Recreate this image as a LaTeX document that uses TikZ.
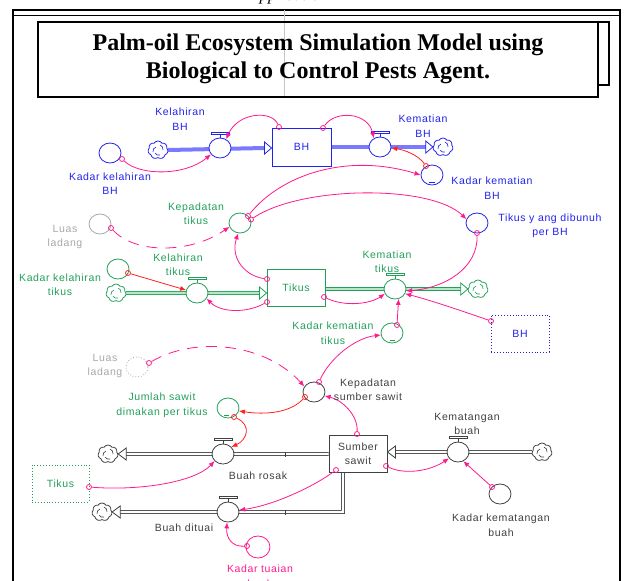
\documentclass[tikz,border=0pt]{standalone}
\usepackage{fontspec}
\setmainfont{Liberation Serif}
\newfontfamily\lbl[LetterSpace=6]{Liberation Sans}
\usetikzlibrary{shapes.geometric,shapes.symbols,arrows.meta,calc}
\pgfdeclarelayer{bg}
\pgfsetlayers{bg,main}
\definecolor{bhblue}{HTML}{2222EE}
\definecolor{bhpipe}{HTML}{7A7AFF}
\definecolor{tgreen}{HTML}{22A05A}
\definecolor{tfill}{HTML}{B8E6C8}
\definecolor{mag}{HTML}{FF1A8C}
\definecolor{cred}{HTML}{FF2222}
\definecolor{lgray}{HTML}{A8A8A8}
\definecolor{dgray}{HTML}{404040}
\tikzset{
  aux/.style={ellipse, draw, fill=white, line width=0.8pt, minimum width=22pt, minimum height=20pt, inner sep=0pt},
  stockbox/.style={rectangle, draw, fill=white, line width=0.9pt, inner sep=0pt, minimum width=58pt, minimum height=37pt, font={\fontsize{10.5}{14.5}\selectfont\lbl}, align=center},
  sc/.style={circle, draw=mag, line width=0.8pt, minimum size=5pt, inner sep=0pt},
  cn/.style={draw=mag, line width=0.8pt, -{Latex[length=6pt,width=5pt]}},
  cnr/.style={cn, draw=cred, fill=none},
  dsh/.style={dash pattern=on 11pt off 8pt},
  cloudn/.style={cloud, draw, fill=white, cloud puffs=7, cloud puff arc=115, cloud ignores aspect, minimum width=20pt, minimum height=18pt, inner sep=0pt, line width=0.8pt},
  lab/.style={font={\fontsize{10.5}{14.5}\selectfont\lbl}, align=center, inner sep=0pt},
  pipeg/.style={draw=tgreen, double=tfill, double distance=2.4pt, line width=0.7pt},
  pipek/.style={draw=dgray, double=white, double distance=2.2pt, line width=0.7pt},
  tri/.style={fill=white, line width=0.8pt}
}
\newcommand\valvecap[2]{%
  \draw[#2, line width=0.8pt] (#1.north) -- ++(0,-3);
  \draw[#2, line width=0.8pt, fill=white] ($(#1.north)+(-9,-3)$) rectangle ($(#1.north)+(9,-5.5)$);}
\newcommand\cloudmarks[2]{%
  \draw[#2, line width=0.6pt] ([shift={(-5,2)}]#1.center) to[bend left=40] ([shift={(-2,-3)}]#1.center);
  \draw[#2, line width=0.6pt] ([shift={(2,-5)}]#1.center) to[bend left=40] ([shift={(5,0)}]#1.center);
  \draw[#2, line width=0.6pt] ([shift={(2,5)}]#1.center) to[bend left=40] ([shift={(-3,3)}]#1.center);}
\begin{document}
\begin{tikzpicture}[x=1pt,y=-1pt]
\begin{pgfonlayer}{bg}
\fill[white] (0,0) rectangle (627,581);
\end{pgfonlayer}
\useasboundingbox (0,0) rectangle (627,581);

% cut-off heading at the very top
\begin{scope}
\clip (0,0) rectangle (627,9);
\node[font=\itshape\fontsize{17}{17}\selectfont, anchor=base west, inner sep=0pt] (apx) at (249,0.8) {Application};
\end{scope}

% outer frame
\draw[line width=2.2pt] (13,581) -- (13,10) -- (620,10) -- (620,581);
\draw[line width=0.7pt] (13,15.5) -- (620,15.5);
\draw[gray!45, line width=0.4pt] (284,10) -- (284,97);

% title
\draw[line width=2.4pt] (598,22) rectangle (609,85);
\node[draw, fill=white, line width=1.4pt, minimum width=560pt, minimum height=75pt, inner sep=0pt] (titlebox) at (318,59.5) {};
\draw[gray!45, line width=0.4pt] (284,23) -- (284,96);
\node[font=\bfseries\fontsize{24}{28}\selectfont, align=center, inner sep=0pt] (titletext) at (318,59) {Palm-oil Ecosystem Simulation Model using\\Biological to Control Pests Agent.};

% ---------------- BH section
\node[aux, draw=bhblue] (kkbh) at (110,153) {};
\node[cloudn, draw=bhblue] (cl1) at (158,150) {};
\node[aux, draw=bhblue] (v1) at (220,148) {};
\node[stockbox, draw=bhblue, minimum width=59pt, minimum height=38pt, text=bhblue] (bh) at (301.5,147) {BH};
\node[aux, draw=bhblue] (v2) at (380,147) {};
\node[cloudn, draw=bhblue] (cl2) at (443,147) {};
\node[aux, draw=bhblue] (kmbh) at (432,175) {};
\draw[bhblue, line width=0.6pt] (429,182) -- (435,182);
\cloudmarks{cl1}{bhblue}
\cloudmarks{cl2}{bhblue}
\begin{pgfonlayer}{bg}
\draw[line width=4pt, bhpipe] (cl1.east) -- ($(v1 -| bh.west)+(-7,0)$);
\draw[line width=4pt, bhpipe] (v2 -| bh.east) -- ($(v2 -| cl2.west)+(-7,0)$);
\end{pgfonlayer}
\draw[tri, draw=bhblue] (v1 -| bh.west) -- ++(-7,-6) -- ++(0,12) -- cycle;
\draw[tri, draw=bhblue] (v2 -| cl2.west) -- ++(-7,-6) -- ++(0,12) -- cycle;
\valvecap{v1}{bhblue}
\valvecap{v2}{bhblue}

% ---------------- Tikus section
\node[aux, draw=tgreen] (kt) at (240,223) {};
\node[aux, draw=lgray] (ll1) at (100,224) {};
\node[aux, draw=bhblue] (tdb) at (477,223) {};
\node[aux, draw=tgreen] (kkt) at (118,269) {};
\node[cloudn, draw=tgreen] (cl3) at (116,293) {};
\node[aux, draw=tgreen] (v3) at (197,293) {};
\node[stockbox, draw=tgreen, text=tgreen] (tk) at (296,287.5) {Tikus};
\node[aux, draw=tgreen] (v4) at (395,289) {};
\node[cloudn, draw=tgreen] (cl4) at (478,289) {};
\node[aux, draw=tgreen] (ktm) at (392,333) {};
\draw[tgreen, line width=0.6pt] (390,340) -- (395,340);
\node[stockbox, draw=bhblue, dotted, text=bhblue] (bhg) at (520,333.5) {BH};
\cloudmarks{cl3}{tgreen}
\cloudmarks{cl4}{tgreen}
\begin{pgfonlayer}{bg}
\draw[pipeg] (cl3.east) -- ($(v3 -| tk.west)+(-7,0)$);
\draw[pipeg] (v4 -| tk.east) -- ($(v4 -| cl4.west)+(-7,0)$);
\end{pgfonlayer}
\draw[tri, draw=tgreen] (v3 -| tk.west) -- ++(-7,-6) -- ++(0,12) -- cycle;
\draw[tri, draw=tgreen] (v4 -| cl4.west) -- ++(-7,-6) -- ++(0,12) -- cycle;
\valvecap{v3}{tgreen}
\valvecap{v4}{tgreen}

% ---------------- Sumber sawit section
\node[aux, draw=lgray, dotted] (ll2) at (137,367) {};
\node[aux, draw=dgray] (kss) at (314,392) {};
\node[aux, draw=tgreen] (js) at (228,408) {};
\draw[tgreen, line width=0.6pt] (224,415) -- (229,415);
\node[cloudn, draw=dgray] (cl5) at (108,454) {};
\node[aux, draw=dgray] (v5) at (223,454) {};
\node[stockbox, draw=dgray, text=dgray] (ss) at (358,453.5) {Sumber\\sawit};
\node[aux, draw=dgray] (v7) at (458,452) {};
\node[cloudn, draw=dgray] (cl6) at (542,452) {};
\node[aux, draw=dgray] (kkb) at (500,494) {};
\node[stockbox, draw=tgreen, dotted, text=tgreen, minimum width=57pt] (tkg) at (60.5,483.5) {Tikus};
\node[aux, draw=dgray] (v6) at (228,512) {};
\node[cloudn, draw=dgray] (cl7) at (102,512) {};
\node[aux, draw=mag, minimum width=24pt, minimum height=22pt] (ktb) at (258,547) {};
\coordinate (sb) at ($(ss.south)+(-15,0)$);
\cloudmarks{cl5}{dgray}
\cloudmarks{cl6}{dgray}
\cloudmarks{cl7}{dgray}
\begin{pgfonlayer}{bg}
\draw[pipek] (v5 -| ss.west) -- ($(cl5.east)+(8,0)$);
\draw[pipek] (cl6.west) -- ($(v7 -| ss.east)+(8,0)$);
\draw[pipek] (sb) -- (sb |- v6) -- ($(cl7.east)+(8,0)$);
\end{pgfonlayer}
\draw[tri, draw=dgray] (cl5.east) -- ++(8,-6) -- ++(0,12) -- cycle;
\draw[tri, draw=dgray] (v7 -| ss.east) -- ++(8,-6) -- ++(0,12) -- cycle;
\draw[tri, draw=dgray] (cl7.east) -- ++(8,-6) -- ++(0,12) -- cycle;
\draw[dgray, line width=0.6pt] (285,451.5) -- (285,456.5);
\draw[dgray, line width=0.6pt] (285,509.5) -- (285,514.5);
\valvecap{v5}{dgray}
\valvecap{v6}{dgray}
\valvecap{v7}{dgray}

% ---------------- connector start circles
\node[sc] (s1) at (122,159) {};
\node[sc] (s2) at (279,127) {};
\node[sc] (s3) at (323,128) {};
\node[sc, draw=cred] (s4) at (426,166) {};
\node[sc] (s5) at (248,216) {};
\node[sc] (s6) at (251,219.5) {};
\node[sc] (s7) at (477,233) {};
\node[sc, draw=cred] (s8) at (128,273) {};
\node[sc] (s9) at (111,228) {};
\node[sc] (s10) at (267,279) {};
\node[sc] (s11) at (267,302) {};
\node[sc] (s12) at (324,297) {};
\node[sc] (s13) at (397,325) {};
\node[sc] (s14) at (491,321) {};
\node[sc] (s15) at (319,382) {};
\node[sc] (s16) at (149,363) {};
\node[sc, draw=cred] (s17) at (305,397) {};
\node[sc, draw=cred] (s18) at (234,417) {};
\node[sc] (s19) at (357,434) {};
\node[sc] (s20) at (89,487) {};
\node[sc] (s21) at (336,470) {};
\node[sc] (s22) at (386,466) {};
\node[sc] (s23) at (492,487) {};
\node[sc] (s24) at (247,546) {};

% ---------------- connectors
\draw[cn] (s1) .. controls (140,176) and (185,176) .. (v1.215);
\draw[cn] (s2) .. controls (272,110) and (238,112) .. (v1.55);
\draw[cn] (s3) .. controls (335,110) and (368,112) .. (v2.125);
\draw[cnr] (s4) .. controls (418,155) and (405,150) .. (v2.-5);
\draw[cn] (s5) .. controls (280,176) and (345,152) .. (kmbh.180);
\draw[cn] (s6) .. controls (300,186) and (430,184) .. (tdb.160);
\draw[cn] (s7) .. controls (478,268) and (445,288) .. (v4.-10);
\draw[cnr] (s8) -- (v3.165);
\draw[cn, dsh] (s9) .. controls (135,254) and (190,254) .. (kt.200);
\draw[cn] (s10) .. controls (245,276) and (230,258) .. (kt.-100);
\draw[cn] (s11) .. controls (245,314) and (220,312) .. (v3.-30);
\draw[cn] (s12) .. controls (345,307) and (370,304) .. (v4.205);
\draw[cn] (s13) -- (v4.-70);
\draw[cn] (s14) .. controls (465,312) and (430,300) .. (v4.-25);
\draw[cn] (s15) .. controls (330,358) and (355,338) .. (ktm.190);
\draw[cn, dsh] (s16) .. controls (195,336) and (265,343) .. (kss.150);
\draw[cnr] (s17) .. controls (290,413) and (265,415) .. (js.-15);
\draw[cnr] (s18) .. controls (252,425) and (247,440) .. (v5.40);
\draw[cn] (s19) .. controls (358,415) and (342,400) .. (kss.-20);
\draw[cn] (s20) .. controls (140,491) and (195,482) .. (v5.220);
\draw[cn] (s21) .. controls (310,489) and (270,506) .. (v6.10);
\draw[cn] (s22) .. controls (405,475) and (430,471) .. (v7.215);
\draw[cn] (s23) -- (v7.-60);
\draw[cn] (s24) .. controls (232,547) and (226,538) .. (v6.-95);

% ---------------- labels
\node[lab, text=bhblue] (lkbh) at (180,119) {Kelahiran\\BH};
\node[lab, text=bhblue] (lmbh) at (423,126) {Kematian\\BH};
\node[lab, text=bhblue] (lkkbh) at (110,183.5) {Kadar kelahiran\\BH};
\node[lab, text=bhblue] (lkmbh) at (492,188) {Kadar kematian\\BH};
\node[lab, text=tgreen] (lkt) at (196,213.5) {Kepadatan\\tikus};
\node[lab, text=lgray] (lll1) at (65,237) {Luas\\ladang};
\node[lab, text=bhblue] (ltdb) at (550,226) {Tikus y ang dibunuh\\per BH};
\node[lab, text=tgreen] (lklt) at (178,264.5) {Kelahiran\\tikus};
\node[lab, text=tgreen] (lkkt) at (60,284.5) {Kadar kelahiran\\tikus};
\node[lab, text=tgreen] (lkmt) at (387,261.5) {Kematian\\tikus};
\node[lab, text=tgreen] (lkktm) at (333,333) {Kadar kematian\\tikus};
\node[lab, text=lgray] (lll2) at (105,366) {Luas\\ladang};
\node[lab, text=dgray] (lkss) at (368,389.5) {Kepadatan\\sumber sawit};
\node[lab, text=tgreen] (ljs) at (162,405.5) {Jumlah sawit\\dimakan per tikus};
\node[lab, text=dgray] (lkb) at (467,424) {Kematangan\\buah};
\node[lab, text=dgray] (lbr) at (258,476) {Buah rosak};
\node[lab, text=dgray] (lkkb) at (501,525) {Kadar kematangan\\buah};
\node[lab, text=dgray] (lbd) at (184,528) {Buah dituai};
\node[lab, text=mag] (lktb) at (260,576) {Kadar tuaian\\buah};
\end{tikzpicture}
\end{document}
